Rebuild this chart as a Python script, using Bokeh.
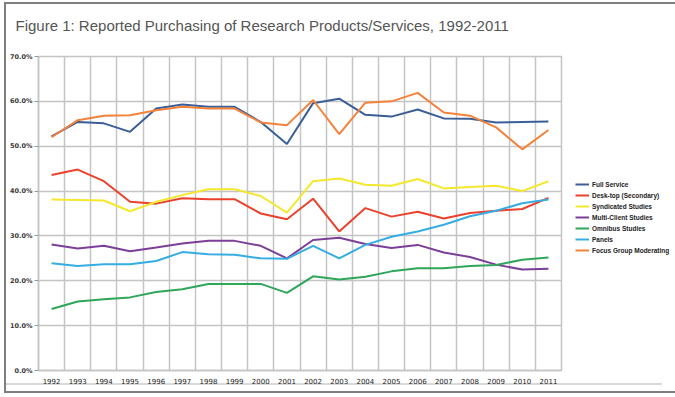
from bokeh.plotting import figure
from bokeh.models import (FactorRange, Range1d, FixedTicker, Legend, LegendItem,
                          PrintfTickFormatter)
from bokeh.embed import file_html
from bokeh.resources import INLINE

years = ["1992", "1993", "1994", "1995", "1996", "1997", "1998", "1999", "2000", "2001",
         "2002", "2003", "2004", "2005", "2006", "2007", "2008", "2009", "2010", "2011"]

full_service = [52.2, 55.4, 55.1, 53.2, 58.4, 59.3, 58.8, 58.8, 55.4, 50.5,
                59.6, 60.6, 57.0, 56.6, 58.2, 56.2, 56.1, 55.3, 55.4, 55.5]
desk_top = [43.6, 44.8, 42.2, 37.6, 37.2, 38.4, 38.2, 38.2, 35.0, 33.7,
            38.3, 31.0, 36.2, 34.3, 35.4, 33.9, 35.1, 35.6, 36.0, 38.5]
syndicated = [38.1, 38.0, 37.9, 35.5, 37.6, 39.1, 40.4, 40.4, 38.9, 35.2,
              42.2, 42.8, 41.4, 41.2, 42.7, 40.6, 40.9, 41.2, 40.0, 42.2]
multi_client = [28.1, 27.2, 27.8, 26.6, 27.4, 28.3, 28.9, 28.9, 27.8, 25.0,
                29.1, 29.6, 28.2, 27.3, 28.0, 26.3, 25.3, 23.6, 22.5, 22.7]
omnibus = [13.7, 15.4, 15.9, 16.3, 17.5, 18.1, 19.3, 19.3, 19.3, 17.3,
           21.0, 20.3, 20.9, 22.1, 22.8, 22.8, 23.3, 23.5, 24.7, 25.2]
panels = [23.9, 23.3, 23.7, 23.7, 24.4, 26.4, 25.9, 25.8, 25.0, 24.9,
          27.8, 25.0, 28.0, 29.8, 31.0, 32.5, 34.4, 35.6, 37.3, 38.1]
focus_group = [52.0, 55.8, 56.8, 56.9, 58.0, 58.8, 58.4, 58.4, 55.3, 54.7,
               60.3, 52.7, 59.7, 60.0, 61.9, 57.5, 56.8, 54.2, 49.3, 53.6]

series_names = ["Full Service", "Desk-top (Secondary)", "Syndicated Studies",
                "Multi-Client Studies", "Omnibus Studies", "Panels", "Focus Group Moderating"]
series_values = [full_service, desk_top, syndicated, multi_client, omnibus, panels, focus_group]
series_colors = ["#3a5f98", "#ec412c", "#f5e82c", "#7c3f98", "#2fa65a", "#35ade3", "#f4823a"]

y_ticks = [0, 10, 20, 30, 40, 50, 60, 70]
title_text = "Figure 1: Reported Purchasing of Research Products/Services, 1992-2011"

p = figure(frame_width=523, frame_height=314,
           x_range=FactorRange(factors=years), y_range=Range1d(0, 70),
           output_backend="svg", toolbar_location=None, title=title_text + "\n ",
           min_border_left=30, min_border_right=108, min_border_top=52, min_border_bottom=21)

p.styles = {
    "margin": "2px 0 0 4px",
    "border": "2px solid #7f7f7f",
    "background": "linear-gradient(#d9d9d9, #d9d9d9) 0px 379px / 656px 2px no-repeat, #ffffff",
}

p.title.text_font = "Liberation Sans"
p.title.text_font_size = "15px"
p.title.text_font_style = "normal"
p.title.text_line_height = 1.1
p.title.text_color = "#555555"
p.title.align = "left"
p.title.offset = -23
p.title.standoff = 8

p.background_fill_color = "white"
p.border_fill_alpha = 0
p.outline_line_color = "#c4c4c4"
p.outline_line_width = 1.5

grid_color = "#c4c4c4"
p.xgrid.ticker = FixedTicker(ticks=list(range(len(years) + 1)))
p.xgrid.grid_line_color = grid_color
p.xgrid.grid_line_width = 1.5
p.ygrid.ticker = FixedTicker(ticks=y_ticks)
p.ygrid.grid_line_color = grid_color
p.ygrid.grid_line_width = 1.5

p.yaxis.ticker = FixedTicker(ticks=y_ticks)
p.yaxis.formatter = PrintfTickFormatter(format="%.1f%%")
p.yaxis.axis_line_color = grid_color
p.yaxis.axis_line_width = 1.5
p.yaxis.major_tick_line_color = "#999999"
p.yaxis.major_tick_in = 0
p.yaxis.major_tick_out = 4
p.yaxis.minor_tick_line_color = None
p.yaxis.major_label_standoff = 2
p.yaxis.major_label_text_font = "DejaVu Sans"
p.yaxis.major_label_text_font_style = "bold"
p.yaxis.major_label_text_font_size = "6.5px"
p.yaxis.major_label_text_color = "#3a3a3a"

p.xaxis.axis_line_color = grid_color
p.xaxis.axis_line_width = 1.5
p.xaxis.major_tick_line_color = None
p.xaxis.major_label_standoff = 1
p.xaxis.major_label_text_font = "DejaVu Sans"
p.xaxis.major_label_text_font_size = "7px"
p.xaxis.major_label_text_color = "#222222"

items = []
for name, vals, col in zip(series_names, series_values, series_colors):
    r = p.line(years, vals, line_color=col, line_width=2)
    items.append(LegendItem(label=name, renderers=[r]))

legend = Legend(items=items, location=(14, 115), margin=14, padding=0,
                glyph_width=14, glyph_height=10, label_height=10, label_standoff=3,
                spacing=1, border_line_alpha=0, background_fill_alpha=0,
                label_text_font="Liberation Sans", label_text_font_style="bold",
                label_text_font_size="6.5px", label_text_color="#222222")
p.add_layout(legend, "right")

open("out.html", "w").write(file_html(p, INLINE))
